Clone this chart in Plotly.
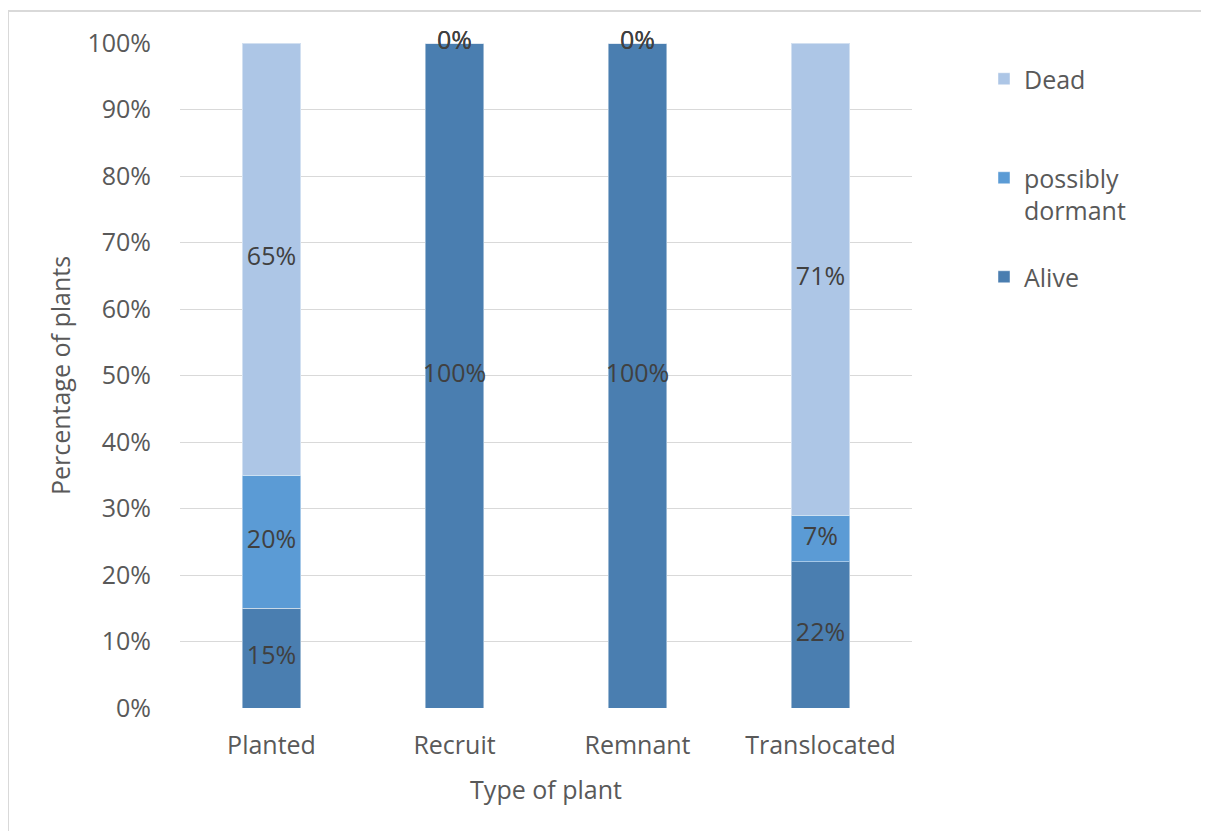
import plotly.graph_objects as go

categories = ["Planted", "Recruit", "Remnant", "Translocated"]
alive = [15, 100, 100, 22]
dormant = [20, 0, 0, 7]
dead = [65, 0, 0, 71]
series_names = ["Alive", "possibly<br>dormant", "Dead<br> "]
series_values = [alive, dormant, dead]
legend_ranks = [3, 2, 1]
colors = ["#4a7eb0", "#5b9bd5", "#adc6e6"]
y_ticks = [0, 10, 20, 30, 40, 50, 60, 70, 80, 90, 100]
y_tick_labels = [f"{v}%" for v in y_ticks]

FONT = "Open Sans"
TXT = "#595959"
FS = 25

# page body has an 8px margin; plot area should land at x 180..912, y 43..708
L, T = 172, 35
PW, PH = 732, 665
W, H = 1201, 823

fig = go.Figure()
for i, (name, vals, col) in enumerate(zip(series_names, series_values, colors)):
    fig.add_trace(go.Bar(
        x=categories, y=vals, name=name, marker_color=col,
        marker_line=dict(width=1, color="rgba(255,255,255,0.45)"),
        width=0.317, legendgroup=str(i), legendrank=legend_ranks[i],
    ))

# data labels at segment midpoints (including zero-height segments)
base = [0] * len(categories)
for vals in series_values:
    mids = [b + v / 2 for b, v in zip(base, vals)]
    fig.add_trace(go.Scatter(
        x=categories, y=mids, mode="text",
        text=[f"{v}%" for v in vals],
        textfont=dict(family=FONT, size=FS, color="#404040"),
        showlegend=False, hoverinfo="skip", cliponaxis=False,
    ))
    base = [b + v for b, v in zip(base, vals)]

def px_x(p):
    return (p - 8 - L) / PW

def px_y(p):
    return (T + PH - (p - 8)) / PH

fig.update_layout(
    barmode="stack",
    width=W, height=H,
    margin=dict(l=L, r=W - L - PW, t=T, b=H - T - PH),
    paper_bgcolor="white", plot_bgcolor="white",
    font=dict(family=FONT, size=FS, color=TXT),
    legend=dict(
        x=px_x(984), y=px_y(56), xanchor="left", yanchor="top",
        tracegroupgap=31,
        valign="top", font=dict(family=FONT, size=FS, color=TXT),
        itemwidth=30,
    ),
    xaxis=dict(
        title=dict(text="Type of plant", font=dict(size=FS, color=TXT), standoff=21),
        showgrid=False, showline=False, zeroline=False,
        ticks="", ticklabelstandoff=20, range=[-0.5, 3.5],
    ),
    yaxis=dict(
        title=dict(text="Percentage of plants", font=dict(size=FS, color=TXT), standoff=9),
        range=[0, 100], tickvals=y_ticks, ticktext=y_tick_labels,
        showgrid=True, gridcolor="#d9d9d9", gridwidth=1,
        zeroline=False, showline=False, ticks="", ticklabelstandoff=28,
    ),
    shapes=[
        dict(type="line", xref="paper", yref="paper", x0=px_x(8), x1=px_x(1209),
             y0=px_y(11), y1=px_y(11), line=dict(color="#d9d9d9", width=2)),
        dict(type="line", xref="paper", yref="paper", x0=px_x(8), x1=px_x(8),
             y0=px_y(11), y1=px_y(831), line=dict(color="#d9d9d9", width=2)),
    ],
)

fig.write_html("out.html")
